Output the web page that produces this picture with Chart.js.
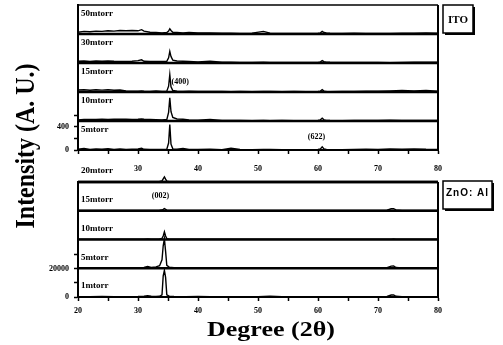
<!DOCTYPE html>
<html><head><meta charset="utf-8">
<script src="https://cdn.jsdelivr.net/npm/chart.js@4.4.1/dist/chart.umd.min.js"></script>
<style>
html,body{margin:0;padding:0;background:#fff;width:503px;height:345px;overflow:hidden}
canvas{position:absolute;left:0;top:0}
</style></head><body>
<canvas id="c1" width="503" height="345"></canvas>
<canvas id="c2" width="503" height="345"></canvas>
<script>
// ---------- DATA ----------
// ITO panel (2-theta grid, intensity a.u.)
const itoAngles = [20,21,22,23,24,25,26,27,28,29,30,30.6,31,32,33,34,34.8,35.1,35.3,35.5,35.8,36.5,37.5,38.5,40,42,44,45.5,47,49,50.9,52,54,56,58,60,60.4,60.7,61,61.4,62,64,66,68,70,72,74,76,78,80];
const ito5  = [15,25,10,20,12,22,10,18,8,15, 20,30,12,10,8,10, 15,120,440,100,20, 12,25,10, 8,12,6, 30,8,6, 10,8,6,5,6,8, 20,55,20,8, 6,5,8,15,10,20,15,20,12,10];
const ito10 = [20,25,28,25,30,28,30,32,30,28, 30,35,30,25,22,20, 25,150,400,160,60, 35,30,20, 15,25,10, 8,8,6, 8,6,8,6,5,8, 20,50,20,10, 8,6,10,8,10,12,10,8,10,8];
const ito15 = [35,40,30,38,32,40,30,35,20,15, 15,20,12,10,20,10, 15,100,300,90,25, 12,10,15, 10,8,10, 6,8,6, 10,8,6,10,6,8, 15,40,15,8, 6,8,10,12,15,20,25,20,25,15];
const ito30 = [30,35,25,35,30,35,30,28,25,30, 40,55,30,28,25,25, 30,90,200,110,50, 35,30,25, 20,30,15, 12,10,10, 12,10,8,10,8,10, 20,40,22,15, 12,10,8,10,8,6,10,12,15,12];
const ito50 = [30,45,40,50,45,55,50,60,55,60, 55,75,50,30,25,20, 25,50,90,60,30, 25,20,25, 18,20,15, 12,10,15, 45,15,10,8,10,12, 20,45,25,20, 15,10,12,10,8,10,12,15,20,15];
const itoSeries = [ito5, ito10, ito15, ito30, ito50];
const itoNames  = ['5mtorr','10mtorr','15mtorr','30mtorr','50mtorr'];
const itoYTicks = [0,200,400,600];
const itoYTickLabels = ['0','','400',''];

// ZnO:Al panel
const znoAngles = [20,22,24,26,28,30,31,31.6,32.2,33,33.6,34.0,34.2,34.4,34.6,34.8,35.2,36,38,40,42,44,46,48,50,52,54,56,58,60,62,64,66,68,70,71.5,72.2,72.6,73,74,76,78,80];
const zno1  = [300,200,400,250,300,400, 600,900,500,400,500, 1500,15000,19000,14000,1500, 600,400, 300,400,200,300,250,200,300,500,300,200,300,250,300,200,300,250,300, 400,1400,1500,500, 300,250,200,300];
const zno5  = [300,400,300,250,400,300, 500,1200,600,1000,1800, 6000,16000,21000,12000,2000, 800,400, 300,250,300,200,300,250,400,300,250,300,200,300,250,300,200,300,250, 400,1500,1600,500, 300,200,300,250];
const zno10 = [200,300,200,250,300,200, 300,400,300,250,400, 800,2500,5500,2500,600, 300,250, 200,300,250,200,300,200,250,300,200,250,300,200,250,200,300,250,200, 250,300,350,250, 200,300,250,200];
const zno15 = [300,250,300,200,250,300, 250,300,250,300,350, 500,1000,1600,1000,400, 300,250, 300,200,250,300,200,250,300,250,200,300,250,300,200,250,300,200,250, 400,1400,1500,600, 300,250,300,200];
const zno20 = [200,250,200,300,250,200, 250,300,200,250,400, 800,2200,3600,2000,600, 300,200, 250,200,300,250,200,250,300,200,250,300,200,250,300,200,250,300,200, 250,300,250,200, 250,200,300,250];
const znoSeries = [zno1, zno5, zno10, zno15, zno20];
const znoNames  = ['1mtorr','5mtorr','10mtorr','15mtorr','20mtorr'];
const znoYTicks = [0,10000,20000,30000];
const znoYTickLabels = ['0','','20000',''];

const xTickValues = [20,30,40,50,60,70,80];

// ---------- STYLE / LAYOUT ----------
const OFF_ITO = 500, OFF_ZNO = 20500;
const SERIF = "'Liberation Serif', 'DejaVu Serif', serif";
const tickFont = {family: SERIF, size: 8, weight: 'bold'};

function makeDatasets(angles, series, off){
  return series.map((s,i)=>({
    data: angles.map((a,k)=>({x:a, y:s[k] + i*off})),
    borderColor:'#000', borderWidth:1.4, pointRadius:0, tension:0, fill:false, clip:false
  }));
}

function panelPlugin(o){
  return {
    id:'panel_'+o.key,
    afterDraw(chart){
      const {ctx, chartArea:a, scales:{x,y}} = chart;
      ctx.save();
      ctx.strokeStyle='#000'; ctx.fillStyle='#000';
      ctx.lineWidth = o.topWidth;
      ctx.beginPath(); ctx.moveTo(a.left,a.top); ctx.lineTo(a.right,a.top); ctx.stroke();
      ctx.lineWidth = 2;
      ctx.beginPath(); ctx.moveTo(a.right,a.top); ctx.lineTo(a.right,a.bottom); ctx.stroke();
      ctx.lineWidth = 2.5;
      for(let i=1;i<o.n;i++){
        const py = y.getPixelForValue(i*o.off);
        ctx.beginPath(); ctx.moveTo(a.left,py); ctx.lineTo(a.right,py); ctx.stroke();
      }
      ctx.font = "bold 9px " + SERIF;
      ctx.textAlign='left'; ctx.textBaseline='middle';
      o.names.forEach((nm,i)=>{
        const py = y.getPixelForValue(i*o.off) - o.labelDy;
        ctx.fillText(nm, a.left+3, py);
      });
      ctx.font = "bold 8px " + SERIF;
      o.peaks.forEach(p=>{
        ctx.fillText(p.t, x.getPixelForValue(p.x), y.getPixelForValue(p.i*o.off) - p.dy);
      });
      const bx = a.right+5, by = a.top + o.boxDy, bw=o.boxW, bh=28;
      ctx.fillRect(bx+2, by+2, bw, bh);
      ctx.fillStyle='#fff'; ctx.fillRect(bx, by, bw, bh);
      ctx.lineWidth=1.5; ctx.strokeRect(bx, by, bw, bh);
      ctx.fillStyle='#000';
      ctx.font = o.boxFont;
      ctx.textAlign='center';
      if (o.spacing) ctx.letterSpacing = o.spacing;
      ctx.fillText(o.box, bx+bw/2, by+o.boxTextDy);
      ctx.letterSpacing = '0px';
      if (o.titles){
        ctx.textAlign='center'; ctx.textBaseline='middle';
        ctx.font = "bold 21px " + SERIF;
        let t = 'Degree (2θ)'; let w = ctx.measureText(t).width;
        ctx.save(); ctx.translate(271, 331); ctx.scale(128/w, 1); ctx.fillText(t,0,0); ctx.restore();
        ctx.font = "bold 28px " + SERIF;
        t = 'Intensity (A. U.)'; w = ctx.measureText(t).width;
        ctx.save(); ctx.translate(27, 146); ctx.rotate(-Math.PI/2); ctx.scale(165/w,1); ctx.fillText(t,0,0); ctx.restore();
      }
      ctx.restore();
    }
  };
}

function makeChart(id, cfg){
  return new Chart(document.getElementById(id), {
    type:'line',
    data:{datasets: makeDatasets(cfg.angles, cfg.series, cfg.off)},
    options:{
      responsive:false, animation:false, devicePixelRatio:1,
      layout:{padding: cfg.padding},
      plugins:{legend:{display:false}, tooltip:{enabled:false}},
      scales:{
        x:{type:'linear', min:20, max:80,
           grid:{display:true, drawOnChartArea:false, drawTicks:true, tickLength:4, tickColor:'#000', tickWidth:1.5, color:'#000'},
           border:{display:true, color:'#000', width:2},
           ticks:{stepSize:5, autoSkip:false, maxRotation:0, minRotation:0, color:'#000', font:tickFont, padding: cfg.xPad,
                  callback:(v)=> (xTickValues.includes(v) && !(cfg.hide20 && v===20)) ? String(v) : ''},
           afterFit:(s)=>{ s.height = cfg.xHeight; s.paddingLeft = 0; s.paddingRight = 0; s.paddingTop = 0; s.paddingBottom = 0; }
        },
        y:{type:'linear', min:0, max: cfg.off*(cfg.series.length-1) + cfg.topExtra,
           grid:{display:true, drawOnChartArea:false, drawTicks:true, tickLength:4, tickColor:'#000', tickWidth:1.5, color:'#000'},
           border:{display:true, color:'#000', width:2},
           afterBuildTicks:(s)=>{ s.ticks = cfg.yTicks.map(v=>({value:v})); },
           ticks:{color:'#000', font:tickFont, padding:5, autoSkip:false,
                  callback:(v,i)=> cfg.yTickLabels[i]},
           afterFit:(s)=>{ s.width = 78; s.paddingTop = 0; s.paddingBottom = 0; s.paddingLeft = 0; s.paddingRight = 0; }
        }
      }
    },
    plugins:[panelPlugin(cfg.plugin)]
  });
}

makeChart('c1', {
  angles: itoAngles, series: itoSeries, off: OFF_ITO, topExtra: OFF_ITO,
  padding:{top:5, right:65, bottom:165, left:0}, xHeight:30, xPad:10, hide20:true,
  yTicks: itoYTicks, yTickLabels: itoYTickLabels,
  plugin:{key:'ito', n:5, off:OFF_ITO, names:itoNames, labelDy:20, topWidth:1.5,
    peaks:[{t:'(400)', x:35.6, i:2, dy:10},{t:'(622)', x:58.3, i:0, dy:13}],
    box:'ITO', boxW:30, boxDy:0, boxTextDy:15, boxFont:"bold 11px " + SERIF, titles:false}
});

makeChart('c2', {
  angles: znoAngles, series: znoSeries, off: OFF_ZNO, topExtra: 0,
  padding:{top:182, right:65, bottom:0, left:0}, xHeight:48, xPad:5, hide20:false,
  yTicks: znoYTicks, yTickLabels: znoYTickLabels,
  plugin:{key:'zno', n:5, off:OFF_ZNO, names:znoNames, labelDy:11, topWidth:2.5,
    peaks:[{t:'(002)', x:32.3, i:3, dy:15}],
    box:'ZnO: Al', boxW:49, boxDy:-1, boxTextDy:12, boxFont:"bold 10px 'Liberation Sans', Arial, sans-serif", spacing:'1px', titles:true}
});
</script>
</body></html>
